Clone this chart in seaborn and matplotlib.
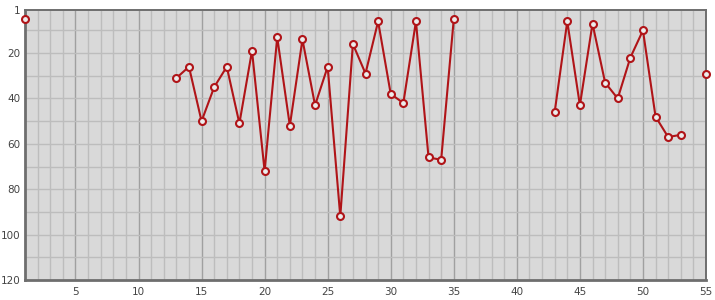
import numpy as np
import pandas as pd
import matplotlib
matplotlib.use("Agg")
import matplotlib.pyplot as plt
import seaborn as sns

# data: position (x) vs rank (y); gaps where no value
weeks = [1, 13, 14, 15, 16, 17, 18, 19, 20, 21, 22, 23, 24, 25, 26, 27, 28, 29,
         30, 31, 32, 33, 34, 35, 43, 44, 45, 46, 47, 48, 49, 50, 51, 52, 53, 55]
ranks = [5, 31, 26, 50, 35, 26, 51, 19, 72, 13, 52, 14, 43, 26, 92, 16, 29, 6,
         38, 42, 6, 66, 67, 5, 46, 6, 43, 7, 33, 40, 22, 10, 48, 57, 56, 29]
x_ticks = [5, 10, 15, 20, 25, 30, 35, 40, 45, 50, 55]
y_ticks = [1, 20, 40, 60, 80, 100, 120]

df = pd.DataFrame({"x": weeks, "y": ranks})
df["seg"] = (df["x"].diff().fillna(1) != 1).cumsum()

sns.set_theme(style="white")
plt.rcParams["font.family"] = ["DejaVu Sans"]

W, H = 715, 300
fig = plt.figure(figsize=(W / 100, H / 100), dpi=100)
ax = fig.add_axes([25 / W, (H - 280) / H, (706 - 25) / W, (280 - 10) / H])
ax.set_facecolor("#d9d9d9")

# grid
for xv in range(2, 55):
    major = xv % 5 == 0
    ax.axvline(xv, color="#a0a0a0" if major else "#bdbdbd",
               lw=1.0, zorder=0.5)
for yv in range(10, 120, 10):
    ax.axhline(yv, color="#bdbdbd", lw=1.0, zorder=0.5)

sns.lineplot(data=df, x="x", y="y", units="seg", estimator=None,
             color="#b01418", lw=1.5, marker="o", markersize=5,
             markerfacecolor="#ececec", markeredgecolor="#b01418",
             markeredgewidth=1.5, ax=ax, legend=False, zorder=3, clip_on=False)

ax.set_xlim(1, 55)
ax.set_ylim(120, 1)
ax.set_xticks(x_ticks)
ax.set_yticks(y_ticks)
ax.set_xlabel("")
ax.set_ylabel("")
ax.tick_params(axis="both", length=0, labelsize=7.5, colors="#444444")
ax.tick_params(axis="y", pad=3)
ax.tick_params(axis="x", pad=5)
for s in ax.spines.values():
    s.set_color("#6e6e6e")
    s.set_linewidth(1.4)
ax.spines["left"].set_linewidth(2.0)
ax.spines["bottom"].set_linewidth(2.0)

fig.savefig("out.png", dpi=100, facecolor="white")
